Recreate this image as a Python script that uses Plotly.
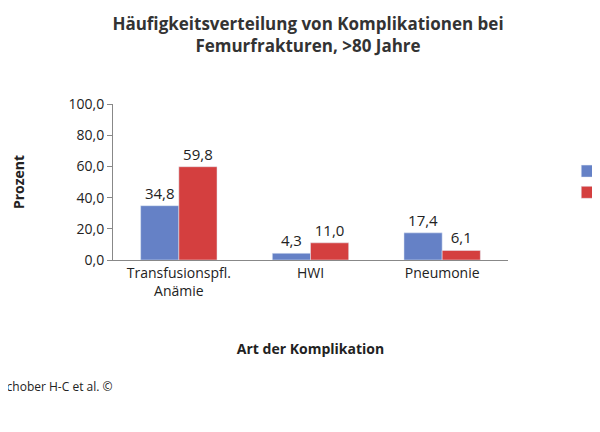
import plotly.graph_objects as go

categories = ["Transfusionspfl.<br>Anämie", "HWI", "Pneumonie"]
m_values = [34.8, 4.3, 17.4]
w_values = [59.8, 11.0, 6.1]
y_ticks = [0, 20, 40, 60, 80, 100]

font = "Open Sans, Liberation Sans, sans-serif"
fig = go.Figure()
fig.add_bar(name="m", x=categories, y=m_values, marker_color="#6581C6",
            text=[f"{v:.1f}".replace(".", ",") for v in m_values], textposition="outside",
            textfont=dict(size=15, color="#222"), cliponaxis=False)
fig.add_bar(name="w", x=categories, y=w_values, marker_color="#D43F3F",
            text=[f"{v:.1f}".replace(".", ",") for v in w_values], textposition="outside",
            textfont=dict(size=15, color="#222"), cliponaxis=False)
fig.update_layout(
    width=600, height=432, paper_bgcolor="white", plot_bgcolor="white",
    font=dict(family=font, size=14, color="#222"),
    margin=dict(l=105, r=100, t=96, b=180, autoexpand=False),
    barmode="group", bargap=0.42, bargroupgap=0,
    title=dict(text="<b>Häufigkeitsverteilung von Komplikationen bei<br>Femurfrakturen, >80 Jahre</b>",
               x=0.5, xanchor="center", y=0.95, yanchor="top", font=dict(size=17, color="#333")),
    yaxis=dict(range=[0, 100], tickvals=y_ticks, automargin=False,
               ticktext=[f"{v},0" for v in y_ticks], showgrid=False, showline=True,
               linecolor="#888", ticks="outside", ticklen=5, tickcolor="#888",
               title=dict(text="<b>Prozent</b>", font=dict(size=14), standoff=40)),
    xaxis=dict(showline=True, linecolor="#888", showgrid=False, automargin=False,
               title=dict(text="<b>Art der Komplikation</b>", font=dict(size=14), standoff=45)),
    legend=dict(x=1.15, y=0.5, yanchor="middle", font=dict(size=14), tracegroupgap=20),
    annotations=[dict(text="Schober H-C et al. ©", xref="paper", yref="paper", x=-0.29, y=-0.81,
                      xanchor="left", yanchor="middle", showarrow=False, font=dict(size=12))],
)
fig.write_html("out.html")
